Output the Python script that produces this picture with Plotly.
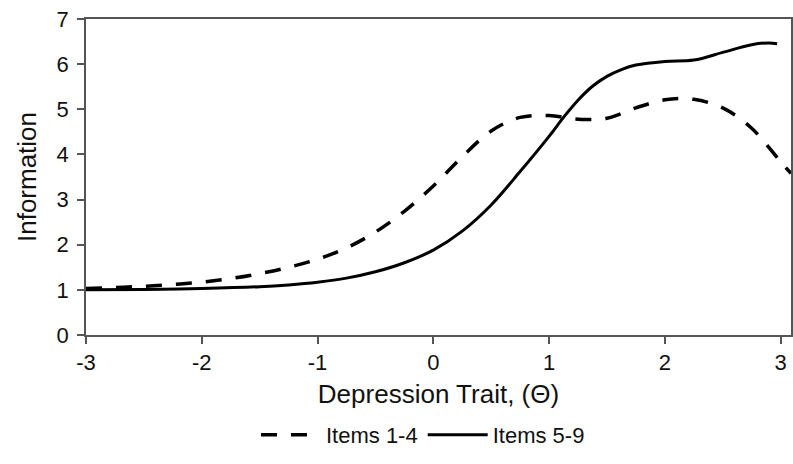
import plotly.graph_objects as go

theta_a = [-3.0, -2.75, -2.5, -2.25, -2.0, -1.75, -1.5, -1.25, -1.0, -0.75, -0.5, -0.25, 0.0, 0.25, 0.5, 0.75, 1.0, 1.25, 1.5, 1.75, 2.0, 2.25, 2.5, 2.75, 3.0, 3.09]
items_1_4 = [1.03, 1.05, 1.08, 1.12, 1.17, 1.25, 1.36, 1.50, 1.68, 1.93, 2.28, 2.74, 3.30, 3.95, 4.52, 4.82, 4.86, 4.78, 4.80, 5.03, 5.21, 5.22, 5.03, 4.58, 3.84, 3.58]

theta_b = [-3.0, -2.5, -2.0, -1.5, -1.25, -1.0, -0.75, -0.5, -0.25, 0.0, 0.25, 0.5, 0.75, 1.0, 1.125, 1.25, 1.375, 1.5, 1.625, 1.75, 2.0, 2.25, 2.5, 2.75, 2.9, 2.97]
items_5_9 = [1.00, 1.01, 1.03, 1.07, 1.11, 1.17, 1.26, 1.40, 1.60, 1.88, 2.30, 2.88, 3.62, 4.40, 4.82, 5.20, 5.51, 5.73, 5.88, 5.98, 6.06, 6.09, 6.26, 6.43, 6.47, 6.45]

x_ticks = [-3, -2, -1, 0, 1, 2, 3]
y_ticks = [0, 1, 2, 3, 4, 5, 6, 7]

FONT = "Liberation Sans, Arial, sans-serif"

fig = go.Figure()
fig.add_trace(go.Scatter(x=theta_a, y=items_1_4, mode="lines", name="Items 1-4",
                         line=dict(color="black", width=3.5, dash="16px,14px", shape="spline", smoothing=1.0)))
fig.add_trace(go.Scatter(x=theta_b, y=items_5_9, mode="lines", name="Items 5-9",
                         line=dict(color="black", width=3, shape="spline", smoothing=1.0)))

axis_common = dict(showgrid=False, zeroline=False, showline=True, linecolor="#555", linewidth=1.5,
                   ticks="outside", ticklen=7, tickcolor="#555", tickwidth=1.5, automargin=False,
                   ticklabeloverflow="allow",
                   tickfont=dict(family=FONT, size=22, color="#111"), mirror=True)

fig.update_layout(
    width=793, height=464,
    margin=dict(l=86, r=2, t=19, b=129),
    plot_bgcolor="white", paper_bgcolor="white",
    font=dict(family=FONT, color="#111"),
    xaxis=dict(range=[-3, 3.09], tickvals=x_ticks, ticktext=[str(v) for v in x_ticks],
               title=dict(text="Depression Trait, (Θ)", font=dict(family=FONT, size=26, color="#111"), standoff=11),
               **axis_common),
    yaxis=dict(range=[0, 7], tickvals=y_ticks, ticklabelstandoff=4,
               title=dict(text="Information", font=dict(family=FONT, size=26, color="#111"), standoff=12),
               **axis_common),
    legend=dict(orientation="h", x=0.478, xanchor="center", y=-0.25, yanchor="top",
                font=dict(family=FONT, size=22, color="#111"), itemwidth=60, tracegroupgap=0),
    showlegend=True,
)

fig.write_html("out.html", config={"displayModeBar": False},
               post_script="document.body.style.margin='0';document.body.style.overflow='hidden';")
